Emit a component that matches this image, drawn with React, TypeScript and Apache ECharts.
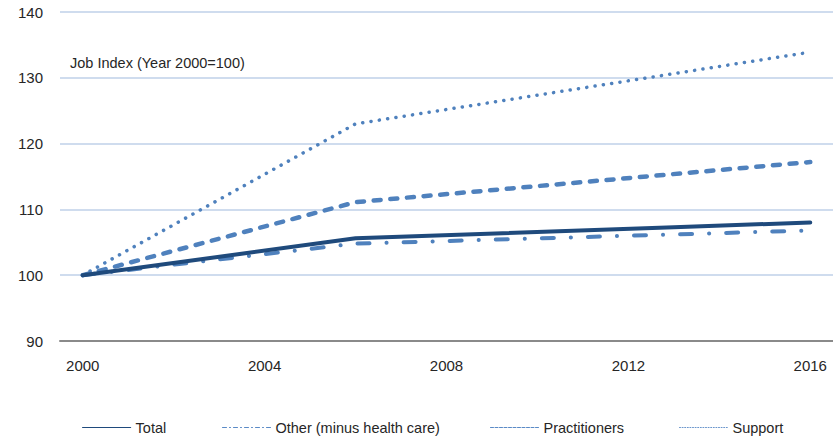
import React, { useEffect, useRef } from "react";
import * as echarts from "echarts";

// Years on the category axis
const years: string[] = [
  "2000", "2001", "2002", "2003", "2004", "2005", "2006", "2007", "2008",
  "2009", "2010", "2011", "2012", "2013", "2014", "2015", "2016",
];

// Job index values (2000 = 100); null where no observation, joined by straight segments
const totalIndex: (number | null)[] = [
  100, null, null, null, null, null, 105.6, null, null,
  null, null, null, null, 107.3, null, null, 108.0,
];
const otherIndex: (number | null)[] = [
  100, null, null, null, null, null, 104.8, null, null,
  null, null, null, null, null, null, null, 106.8,
];
const practitionersIndex: (number | null)[] = [
  100, null, null, null, null, null, 111.1, null, null,
  null, null, null, null, null, null, null, 117.2,
];
const supportIndex: (number | null)[] = [
  100, null, null, null, null, null, 123.0, null, null,
  null, null, null, null, null, null, null, 133.9,
];

const seriesNames: string[] = [
  "Total",
  "Other (minus health care)",
  "Practitioners",
  "Support",
];

const FONT = "'Liberation Sans', Arial, sans-serif";
const NAVY = "#1f4a7c";
const BLUE = "#4f81bd";

export default function App() {
  const ref = useRef<HTMLDivElement>(null);

  useEffect(() => {
    if (!ref.current) return;
    const chart = echarts.init(ref.current, undefined, { renderer: "svg" });

    const legendBase = {
      top: 420,
      padding: 0,
      itemWidth: 48,
      itemHeight: 14,
      itemStyle: { opacity: 0 },
      textStyle: { fontFamily: FONT, fontSize: 14.5, color: "#262626" },
      selectedMode: false,
    };

    chart.setOption({
      animation: false,
      backgroundColor: "#ffffff",
      grid: { left: 60, right: 0, top: 12, bottom: 96, containLabel: false },
      xAxis: {
        type: "category",
        data: years,
        boundaryGap: true,
        axisLine: { show: true, lineStyle: { color: "#8a8a8a", width: 2 } },
        axisTick: { show: false },
        axisLabel: {
          interval: 3,
          margin: 17,
          fontFamily: FONT,
          fontSize: 15,
          color: "#262626",
        },
        splitLine: { show: false },
      },
      yAxis: {
        type: "value",
        min: 90,
        max: 140,
        interval: 10,
        axisLine: { show: false },
        axisTick: { show: false },
        axisLabel: {
          margin: 17,
          fontFamily: FONT,
          fontSize: 15,
          color: "#262626",
        },
        splitLine: { lineStyle: { color: "#bfd1e8", width: 1.5 } },
      },
      legend: [
        {
          ...legendBase,
          left: 82,
          data: [seriesNames[0]],
          lineStyle: { width: 1.2, type: "solid", color: NAVY },
        },
        {
          ...legendBase,
          left: 222,
          data: [seriesNames[1]],
          lineStyle: { width: 1, type: [4, 3, 1, 3], color: "#5a8ac6" },
        },
        {
          ...legendBase,
          left: 490,
          data: [seriesNames[2]],
          lineStyle: { width: 1, type: [3, 1.5], color: "#5a8ac6" },
        },
        {
          ...legendBase,
          left: 679,
          data: [seriesNames[3]],
          lineStyle: { width: 1, type: [1, 1.6], color: "#6b96cc" },
        },
      ],
      graphic: [
        {
          type: "text",
          left: 70,
          top: 55,
          style: {
            text: "Job Index (Year 2000=100)",
            fontFamily: FONT,
            fontSize: 14.5,
            fill: "#262626",
          },
        },
      ],
      series: [
        {
          name: seriesNames[3],
          type: "line",
          data: supportIndex,
          connectNulls: true,
          symbol: "none",
          z: 2,
          lineStyle: { color: BLUE, width: 3.5, type: [0.1, 8.3], cap: "round" },
          itemStyle: { color: BLUE },
        },
        {
          name: seriesNames[2],
          type: "line",
          data: practitionersIndex,
          connectNulls: true,
          symbol: "none",
          z: 3,
          lineStyle: { color: BLUE, width: 4.5, type: [7, 9.7], cap: "round" },
          itemStyle: { color: BLUE },
        },
        {
          name: seriesNames[1],
          type: "line",
          data: otherIndex,
          connectNulls: true,
          symbol: "none",
          z: 4,
          lineStyle: { color: BLUE, width: 4, type: [12, 17, 0.1, 17], cap: "round" },
          itemStyle: { color: BLUE },
        },
        {
          name: seriesNames[0],
          type: "line",
          data: totalIndex,
          connectNulls: true,
          symbol: "none",
          z: 5,
          lineStyle: { color: NAVY, width: 4, type: "solid", cap: "round" },
          itemStyle: { color: NAVY },
        },
      ],
    });

    return () => chart.dispose();
  }, []);

  return (
    <div
      ref={ref}
      style={{ position: "fixed", left: 0, top: 0, width: 833, height: 437, background: "#fff" }}
    />
  );
}
